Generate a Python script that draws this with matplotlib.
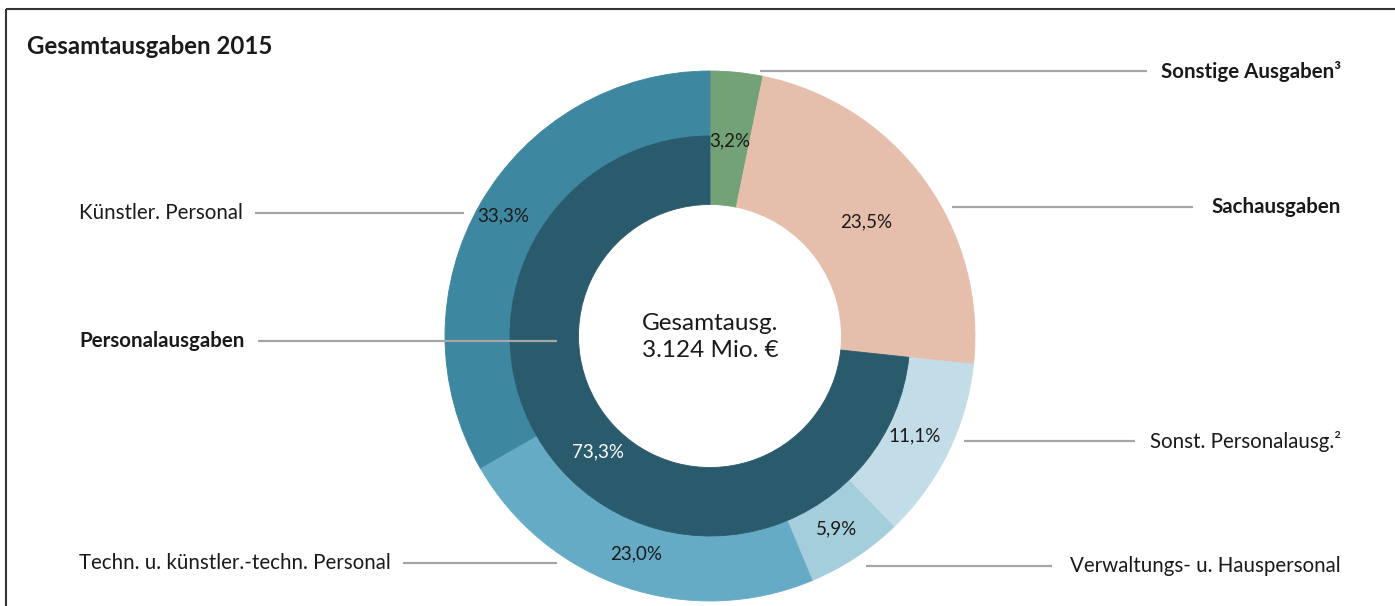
import matplotlib
matplotlib.use("Agg")
import matplotlib.pyplot as plt
import numpy as np

plt.rcParams['font.family'] = ['Lato', 'DejaVu Sans']

# ---- data ----
outer_labels = ["Sonstige Ausgaben", "Sachausgaben", "Sonst. Personalausg.",
                "Verwaltungs- u. Hauspersonal", "Techn. u. künstler.-techn. Personal",
                "Künstler. Personal"]
outer_values = [3.2, 23.5, 11.1, 5.9, 23.0, 33.3]
outer_colors = ["#72a276", "#e5bfab", "#c2dde7", "#a5cedd", "#66abc6", "#3e87a1"]

inner_labels = ["Sonstige Ausgaben", "Sachausgaben", "Personalausgaben"]
inner_values = [3.2, 23.5, 73.3]
inner_colors = ["#72a276", "#e5bfab", "#2a5b6c"]

title = "Gesamtausgaben 2015"
center_text = "Gesamtausg.\n3.124 Mio. €"

W, H = 1395, 606
fig = plt.figure(figsize=(W / 100, H / 100), dpi=100)
ax = fig.add_axes([0, 0, 1, 1])

cx, cy = 710, H - 336
R_out, R_mid, R_hole = 265, 199, 131.5

ax.pie(outer_values, colors=outer_colors, startangle=90, counterclock=False,
       radius=R_out, center=(cx, cy), frame=True,
       wedgeprops=dict(width=R_out - R_mid, linewidth=0.6))
ax.pie(inner_values, colors=inner_colors, startangle=90, counterclock=False,
       radius=R_mid + 1, center=(cx, cy), frame=True,
       wedgeprops=dict(width=R_mid + 1 - R_hole, linewidth=0.6))
for p in ax.patches:
    p.set_edgecolor(p.get_facecolor())
ax.set_xlim(0, W)
ax.set_ylim(0, H)
ax.set_aspect('equal')
ax.axis('off')

def pct(v):
    return f"{v:.1f}%".replace('.', ',')

LS = 14.8   # label size
PS = 13.5   # percent size

# percent labels on outer ring
lab_r = [196, 193, 228, 231, 230, 239]
cum = np.cumsum([0] + outer_values)
for i, v in enumerate(outer_values):
    mid = (cum[i] + cum[i + 1]) / 2
    ang = np.deg2rad(90 - mid * 3.6)
    x = cx + lab_r[i] * np.cos(ang)
    y = cy + lab_r[i] * np.sin(ang)
    ax.text(x, y, pct(v), ha='center', va='center', fontsize=PS, color='#1a1a1a')

# inner personnel label
cumi = np.cumsum([0] + inner_values)
mid = (cumi[2] + cumi[3]) / 2
ang = np.deg2rad(90 - mid * 3.6 + 4)
ax.text(cx + 161 * np.cos(ang), cy + 161 * np.sin(ang), pct(inner_values[2]),
        ha='center', va='center', fontsize=PS, color='white')

# center text
ax.text(cx, H - 337, center_text, ha='center', va='center', fontsize=17.5,
        color='#1a1a1a', linespacing=1.3)

# title
ax.text(27, H - 47, title, ha='left', va='center', fontsize=17.3,
        fontweight='bold', color='#1a1a1a')

lc = '#a6a6a6'
lw = 1.6
# right side labels
right = [
    ("Sonstige Ausgaben³", True, 71, 760, 1147),
    ("Sachausgaben", True, 207, 952, 1193),
    ("Sonst. Personalausg.²", False, 441, 964, 1135),
    ("Verwaltungs- u. Hauspersonal", False, 566, 866, 1052),
]
for txt, bold, y, x0, x1 in right:
    ax.plot([x0, x1], [H - y, H - y], color=lc, lw=lw, solid_capstyle='butt')
    ax.text(1341, H - y, txt, ha='right', va='center', fontsize=LS,
            fontweight='bold' if bold else 'normal', color='#1a1a1a')

left = [
    ("Künstler. Personal", False, 213, 255, 464),
    ("Personalausgaben", True, 341, 258, 557),
    ("Techn. u. künstler.-techn. Personal", False, 563, 403, 557),
]
for txt, bold, y, x0, x1 in left:
    ax.plot([x0, x1], [H - y, H - y], color=lc, lw=lw, solid_capstyle='butt')
    ax.text(79, H - y, txt, ha='left', va='center', fontsize=LS,
            fontweight='bold' if bold else 'normal', color='#1a1a1a')

# frame (top and left)
ax.plot([6, W], [H - 9, H - 9], color='#333333', lw=1.5, solid_capstyle='butt')
ax.plot([6, 6], [H - 9, 0], color='#333333', lw=1.5, solid_capstyle='butt')

fig.savefig("out.png", dpi=100)
